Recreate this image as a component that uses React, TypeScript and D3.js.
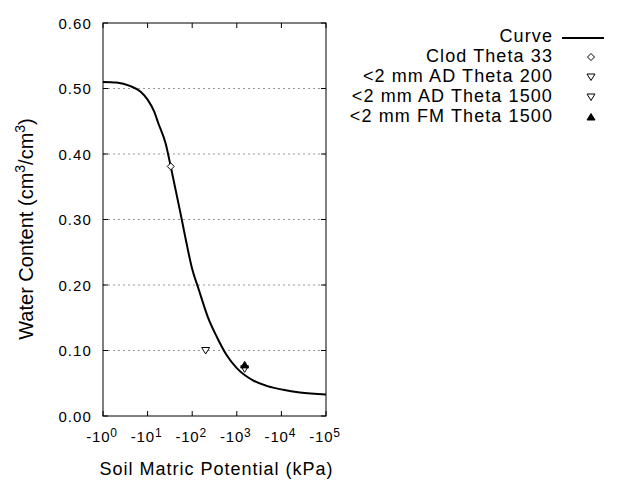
import React from 'react'
import * as d3 from 'd3'

// Retention curve (kPa magnitude, cm3/cm3)
const curvePotential = [1, 2, 4, 7, 10, 14, 17.4, 25.4, 33, 53, 71, 97, 142, 230, 355, 590, 1000, 2350, 4670, 11000, 26000, 100000]
const curveTheta = [0.510, 0.509, 0.504, 0.495, 0.483, 0.465, 0.447, 0.416, 0.381, 0.314, 0.271, 0.228, 0.192, 0.149, 0.121, 0.093, 0.073, 0.054, 0.046, 0.040, 0.036, 0.033]

// Measured points
const pointLabels = ['Clod Theta 33', '<2 mm AD Theta 200', '<2 mm AD Theta 1500', '<2 mm FM Theta 1500']
const pointPotential = [33, 200, 1500, 1500]
const pointTheta = [0.381, 0.10, 0.072, 0.078]
const pointSymbols = ['diamond', 'triDown', 'triDown', 'triUpFilled']

const xTickExponents = [0, 1, 2, 3, 4, 5]
const yTicks = [0, 0.1, 0.2, 0.3, 0.4, 0.5, 0.6]
const gridTicks = [0.1, 0.2, 0.3, 0.4, 0.5]

const FONT = '"Liberation Sans", Arial, Helvetica, sans-serif'

const Marker: React.FC<{ kind: string; x: number; y: number }> = ({ kind, x, y }) => {
  if (kind === 'diamond') {
    return <path d={`M${x - 3.5},${y}L${x},${y - 3.5}L${x + 3.5},${y}L${x},${y + 3.5}Z`} fill="#fff" stroke="#000" strokeWidth={1} />
  }
  if (kind === 'triDown') {
    return <path d={`M${x - 4},${y - 3}L${x + 4},${y - 3}L${x},${y + 3.5}Z`} fill="#fff" stroke="#000" strokeWidth={1} />
  }
  return <path d={`M${x - 4},${y + 3}L${x + 4},${y + 3}L${x},${y - 3.5}Z`} fill="#000" stroke="#000" strokeWidth={1} />
}

export default function App() {
  const width = 640
  const height = 480
  const left = 103
  const right = 326
  const top = 23
  const bottom = 416

  const x = d3.scaleLog().domain([1, 1e5]).range([left, right])
  const y = d3.scaleLinear().domain([0, 0.6]).range([bottom, top])

  const line = d3.line<number>()
    .x((_, i) => x(curvePotential[i]))
    .y(d => y(d))
    .curve(d3.curveMonotoneX)

  const legendX = 553
  const legendBase = 42
  const legendStep = 20

  return (
    <svg width={width} height={height} style={{ position: 'fixed', left: 0, top: 0, background: '#fff' }} fontFamily={FONT}>
      <rect width={width} height={height} fill="#fff" />

      {/* grid */}
      {gridTicks.map(t => (
        <line key={t} x1={left} x2={right} y1={y(t)} y2={y(t)} stroke="#999" strokeWidth={1} strokeDasharray="2,3" />
      ))}

      {/* y ticks both sides */}
      {yTicks.map(t => (
        <g key={t}>
          <line x1={left} x2={left + 5} y1={y(t)} y2={y(t)} stroke="#000" />
          <line x1={right - 5} x2={right} y1={y(t)} y2={y(t)} stroke="#000" />
          <text x={92} y={y(t) + 5.5} textAnchor="end" fontSize={15} letterSpacing={1.1} fill="#000">
            {t.toFixed(2)}
          </text>
        </g>
      ))}

      {/* x ticks top and bottom */}
      {xTickExponents.map(e => {
        const px = x(Math.pow(10, e))
        return (
          <g key={e}>
            <line x1={px} x2={px} y1={bottom} y2={bottom - 5} stroke="#000" />
            <line x1={px} x2={px} y1={top} y2={top + 5} stroke="#000" />
            <text x={px - 1} y={442} textAnchor="middle" fontSize={15} letterSpacing={0.8} fill="#000">
              -10<tspan fontSize={12} dy={-5}>{e}</tspan>
            </text>
          </g>
        )
      })}

      {/* curve */}
      <path d={line(curveTheta) ?? ''} fill="none" stroke="#000" strokeWidth={2} />

      {/* measured points */}
      {pointPotential.map((p, i) => (
        <Marker key={i} kind={pointSymbols[i]} x={x(p)} y={y(pointTheta[i])} />
      ))}

      {/* frame */}
      <rect x={left} y={top} width={right - left} height={bottom - top} fill="none" stroke="#000" strokeWidth={1} />

      {/* axis titles */}
      <text x={(left + right) / 2 + 2} y={475} textAnchor="middle" fontSize={18} letterSpacing={1} fill="#000">
        Soil Matric Potential (kPa)
      </text>
      <text transform="translate(33,229) rotate(-90)" textAnchor="middle" fontSize={20} fill="#000">
        Water Content (cm<tspan fontSize={14} dy={-8}>3</tspan><tspan dy={8}>/cm</tspan><tspan fontSize={14} dy={-8}>3</tspan><tspan dy={8}>)</tspan>
      </text>

      {/* legend */}
      <text x={legendX} y={legendBase} textAnchor="end" fontSize={18} letterSpacing={1.1} fill="#000">Curve</text>
      <line x1={562} x2={604} y1={legendBase - 4} y2={legendBase - 4} stroke="#000" strokeWidth={2} />
      {pointLabels.map((lab, i) => {
        const by = legendBase + legendStep * (i + 1)
        return (
          <g key={lab}>
            <text x={legendX} y={by} textAnchor="end" fontSize={18} letterSpacing={1.1} fill="#000">{lab}</text>
            <Marker kind={pointSymbols[i]} x={591} y={by - 5} />
          </g>
        )
      })}
    </svg>
  )
}
